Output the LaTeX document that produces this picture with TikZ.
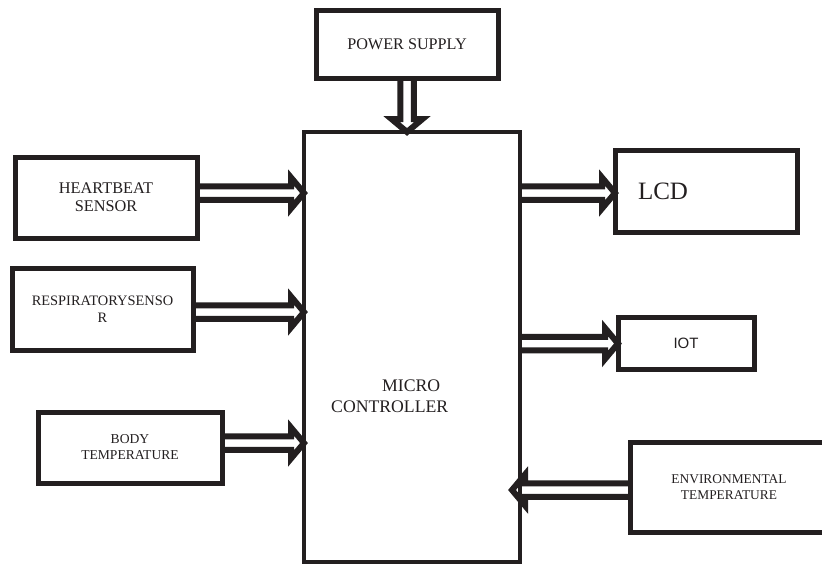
\documentclass[tikz,border=0pt]{standalone}
\usepackage{fontspec}
\setmainfont{Liberation Serif}
\newfontfamily\iotfont{Liberation Sans}
\usetikzlibrary{calc}
\definecolor{ink}{RGB}{35,31,32}
\tikzset{
  blockbox/.style={draw=ink, line width=5pt, fill=white, rectangle, outer sep=0pt,
    inner sep=0pt, align=center, text=ink},
  fatarrow/.style={draw=ink, line width=6pt, line join=miter, miter limit=10}
}
% hollow block arrow from #1 to #2
\newcommand{\hollowarrow}[2]{%
  \path ($(#2)!13pt!(#1)$) coordinate (ahb);
  \draw[fatarrow] ($(#1)!6.75pt!90:(#2)$) -- ($(ahb)!6.75pt!90:(#2)$)
    -- ($(ahb)!15.5pt!90:(#2)$) -- (#2) -- ($(ahb)!15.5pt!-90:(#2)$)
    -- ($(ahb)!6.75pt!-90:(#2)$) -- ($(#1)!6.75pt!-90:(#2)$);
}

\begin{document}
\begin{tikzpicture}[x=1pt,y=-1pt]
\clip (0,0) rectangle (822,566);
\fill[white] (0,0) rectangle (822,566);
% blocks
\node[blockbox, minimum width=182pt, minimum height=68pt,
  font=\fontsize{16.2}{18}\selectfont] (ps) at (407,44) {POWER SUPPLY};
\node[blockbox, line width=4.5pt, minimum width=216pt, minimum height=430pt] (mc) at (412,347) {};
\node[anchor=west, inner sep=0pt, align=left, text=ink,
  font=\fontsize{17.7}{21}\selectfont] (mctext) at (331,396) {\hspace*{51pt}MICRO\\CONTROLLER};
\node[blockbox, minimum width=182pt, minimum height=81pt,
  font=\fontsize{16.3}{18}\selectfont] (hb) at (106,197.5) {HEARTBEAT\\SENSOR};
\node[blockbox, minimum width=181pt, minimum height=82pt,
  font=\fontsize{14.4}{17}\selectfont] (rs) at (102.5,309) {RESPIRATORYSENSO\\R};
\node[blockbox, minimum width=184pt, minimum height=71pt,
  font=\fontsize{13.6}{16}\selectfont] (bt) at (130,447.5) {BODY\\TEMPERATURE};
\node[blockbox, minimum width=182pt, minimum height=82pt, text width=136pt, inner xsep=23pt,
  align=left, font=\fontsize{25}{28}\selectfont] (lcd) at (706,191) {LCD};
\node[blockbox, minimum width=136pt, minimum height=52pt,
  font=\iotfont\fontsize{15}{17}\selectfont] (iot) at (686,343.5) {IOT};
\node[blockbox, minimum width=198pt, minimum height=90pt,
  font=\fontsize{13.4}{15.5}\selectfont] (env) at (729,487) {ENVIRONMENTAL\\TEMPERATURE};
% arrows
\coordinate (psin) at (ps.south |- mc.north);
\hollowarrow{ps.south}{psin}
\coordinate (hbout) at ([yshift=4.5pt]hb.east);
\coordinate (hbin) at (mc.west |- hbout);
\hollowarrow{hbout}{hbin}
\coordinate (rsout) at ([yshift=-3pt]rs.east);
\coordinate (rsin) at (mc.west |- rsout);
\hollowarrow{rsout}{rsin}
\coordinate (btout) at ([yshift=4.5pt]bt.east);
\coordinate (btin) at (mc.west |- btout);
\hollowarrow{btout}{btin}
\coordinate (lcdin) at ([yshift=-2pt]lcd.west);
\coordinate (lcdout) at (mc.east |- lcdin);
\hollowarrow{lcdout}{lcdin}
\coordinate (iotout) at (mc.east |- iot.west);
\hollowarrow{iotout}{iot.west}
\coordinate (envout) at ([yshift=-3pt]env.west);
\coordinate (envin) at ([xshift=-8pt]mc.east |- envout);
\hollowarrow{envout}{envin}
\end{tikzpicture}
\end{document}
